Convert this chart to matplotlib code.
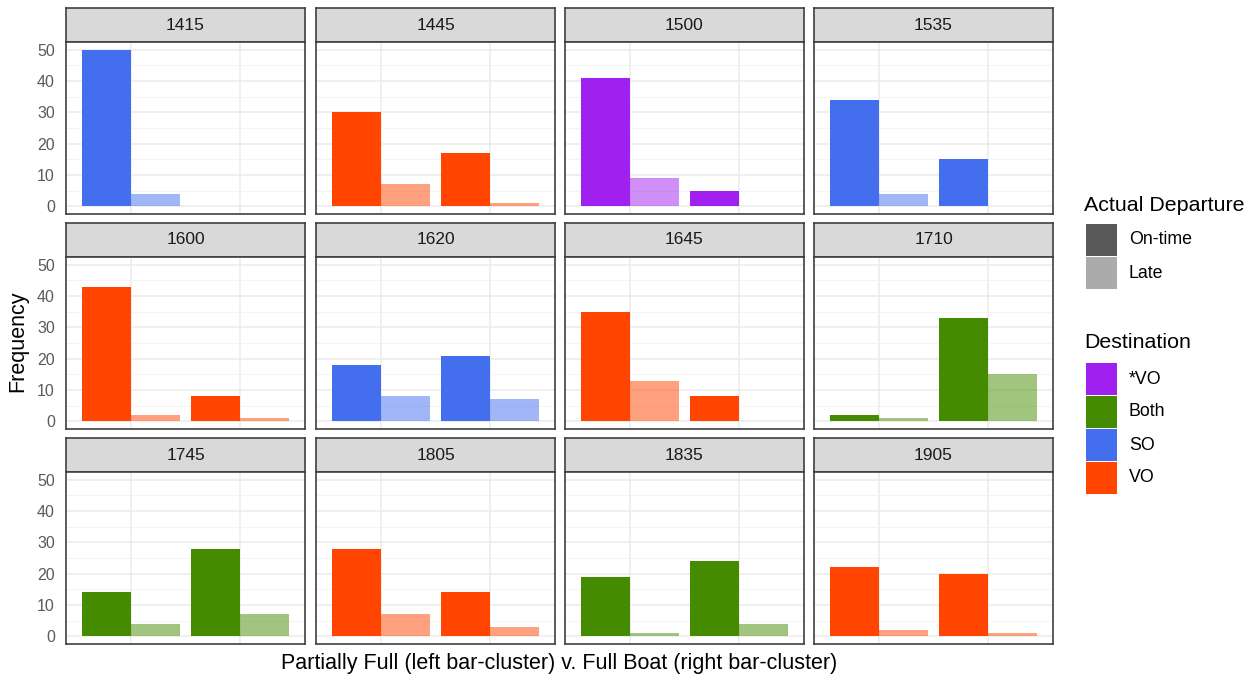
import matplotlib
matplotlib.use("Agg")
import matplotlib.pyplot as plt
from matplotlib.patches import Rectangle

plt.rcParams['font.family'] = ['Liberation Sans', 'DejaVu Sans']

# data
departures = ['1415', '1445', '1500', '1535', '1600', '1620',
              '1645', '1710', '1745', '1805', '1835', '1905']
destinations = ['SO', 'VO', '*VO', 'SO', 'VO', 'SO',
                'VO', 'Both', 'Both', 'VO', 'Both', 'VO']
partial_ontime = [50, 30, 41, 34, 43, 18, 35, 2, 14, 28, 19, 22]
partial_late = [4, 7, 9, 4, 2, 8, 13, 1, 4, 7, 1, 2]
full_ontime = [0, 17, 5, 15, 8, 21, 8, 33, 28, 14, 24, 20]
full_late = [0, 1, 0, 0, 1, 7, 0, 15, 7, 3, 4, 1]

dest_levels = ['*VO', 'Both', 'SO', 'VO']
dest_colors = ['#A020F0', '#458B00', '#436EEE', '#FF4500']
departure_levels = ['On-time', 'Late']
departure_alpha = [1.0, 0.5]

W, H = 1255, 678
fig = plt.figure(figsize=(W / 100, H / 100), dpi=100)

def px_rect(x0, y0, w, h):
	return [x0 / W, 1 - (y0 + h) / H, w / W, h / H]

col_left = [66, 316, 565, 814]
row_top = [8, 223, 438]
panel_w = 239
strip_h = 34
panel_h = 172

color_of = dict(zip(dest_levels, dest_colors))
bar_w = 0.45

for i, dep in enumerate(departures):
	r, c = divmod(i, 4)
	x0 = col_left[c]
	y0 = row_top[r]

	# strip
	sax = fig.add_axes(px_rect(x0, y0, panel_w, strip_h))
	sax.set_facecolor('#D9D9D9')
	sax.set_xticks([])
	sax.set_yticks([])
	for sp in sax.spines.values():
		sp.set_color('#404040')
		sp.set_linewidth(1.2)
	sax.text(0.5, 0.5, dep, ha='center', va='center', fontsize=12.5,
	         color='#1A1A1A', transform=sax.transAxes)

	ax = fig.add_axes(px_rect(x0, y0 + strip_h, panel_w, panel_h))
	col = color_of[destinations[i]]
	ontime = [partial_ontime[i], full_ontime[i]]
	late = [partial_late[i], full_late[i]]
	xs = [1, 2]
	ax.bar([x - bar_w / 2 for x in xs], ontime, width=bar_w, color=col,
	       alpha=departure_alpha[0], zorder=3)
	ax.bar([x + bar_w / 2 for x in xs], late, width=bar_w, color=col,
	       alpha=departure_alpha[1], zorder=3)

	ax.set_xlim(0.4, 2.6)
	ax.set_ylim(-2.5, 52.5)
	ax.set_xticks(xs)
	ax.set_xticklabels([])
	ax.set_yticks(range(0, 51, 10))
	ax.set_yticks(range(5, 50, 10), minor=True)
	ax.grid(True, which='major', color='#EBEBEB', linewidth=1.1, zorder=0)
	ax.grid(True, which='minor', axis='y', color='#F2F2F2', linewidth=0.6, zorder=0)
	ax.tick_params(which='both', length=0)
	if c == 0:
		ax.tick_params(axis='y', labelsize=11.5, labelcolor='#5A5A5A', pad=8)
	else:
		ax.set_yticklabels([])
	for sp in ax.spines.values():
		sp.set_color('#404040')
		sp.set_linewidth(1.2)

fig.text(18 / W, 1 - 341 / H, 'Frequency', rotation=90, ha='center',
         va='center', fontsize=15.5, color='black')
fig.text(559 / W, 1 - 663 / H,
         'Partially Full (left bar-cluster) v. Full Boat (right bar-cluster)',
         ha='center', va='center', fontsize=15.5, color='black')

# legends
key_x, key_w, key_h = 1086, 31, 32
fig.text(1084 / W, 1 - 206 / H, 'Actual Departure', ha='left', va='center',
         fontsize=15.4)
for k, lab in enumerate(departure_levels):
	ky = 224 + k * 33
	fig.add_artist(Rectangle((key_x / W, 1 - (ky + key_h) / H), key_w / W,
	                         key_h / H, transform=fig.transFigure,
	                         facecolor='#595959', alpha=departure_alpha[k],
	                         edgecolor='none'))
	fig.text(1129 / W, 1 - (ky + key_h / 2) / H, lab, ha='left', va='center',
	         fontsize=12.8)

fig.text(1084 / W, 1 - 343 / H, 'Destination', ha='left', va='center',
         fontsize=15.4)
for k, lab in enumerate(dest_levels):
	ky = 363 + k * 33
	fig.add_artist(Rectangle((key_x / W, 1 - (ky + key_h) / H), key_w / W,
	                         key_h / H, transform=fig.transFigure,
	                         facecolor=dest_colors[k], edgecolor='none'))
	fig.text(1129 / W, 1 - (ky + key_h / 2) / H, lab, ha='left', va='center',
	         fontsize=12.8)

fig.savefig('out.png', dpi=100)
